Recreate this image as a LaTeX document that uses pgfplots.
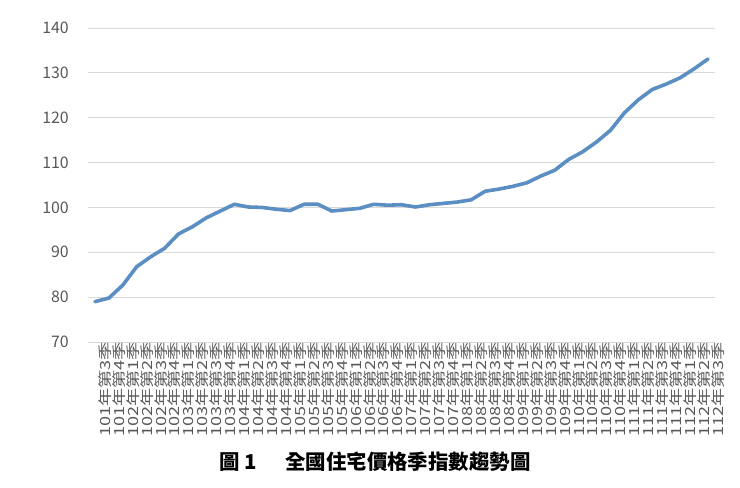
\documentclass[border=0pt]{standalone}
\usepackage{fontspec}
\setmainfont{Noto Sans CJK TC}
\usepackage{pgfplots}
\pgfplotsset{compat=1.18}
\definecolor{linec}{HTML}{5B8EC2}
\definecolor{gridc}{HTML}{D9D9D9}
\definecolor{tickc}{HTML}{595959}
\begin{document}
\begin{tikzpicture}
\useasboundingbox (0,0) rectangle (740bp,-488bp);
\begin{axis}[
  at={(88bp,-342bp)}, anchor=south west,
  scale only axis, width=627bp, height=314bp,
  xmin=-0.5, xmax=44.5, ymin=70, ymax=140,
  ytick={70,80,...,140},
  xtick={0,...,44},
  xticklabels={101年第3季,101年第4季,
    102年第1季,102年第2季,102年第3季,102年第4季,
    103年第1季,103年第2季,103年第3季,103年第4季,
    104年第1季,104年第2季,104年第3季,104年第4季,
    105年第1季,105年第2季,105年第3季,105年第4季,
    106年第1季,106年第2季,106年第3季,106年第4季,
    107年第1季,107年第2季,107年第3季,107年第4季,
    108年第1季,108年第2季,108年第3季,108年第4季,
    109年第1季,109年第2季,109年第3季,109年第4季,
    110年第1季,110年第2季,110年第3季,110年第4季,
    111年第1季,111年第2季,111年第3季,111年第4季,
    112年第1季,112年第2季,112年第3季},
  x tick label style={rotate=90, xscale=1.3, anchor=east, inner sep=0pt, yshift=-10bp,
    font=\fontsize{14}{15}\selectfont, text=tickc},
  y tick label style={anchor=east, inner sep=0pt, xshift=-19bp,
    font=\fontsize{16}{18}\selectfont, text=tickc},
  /pgf/number format/assume math mode=true,
  axis line style={draw=none},
  major tick length=0pt,
  ymajorgrids,
  grid style={gridc, line width=1bp},
  clip=false,
]
\addplot[linec, line width=3.6bp, line join=round, line cap=round] table {
x y
0 79.0
1 79.8
2 82.7
3 86.8
4 89.0
5 90.9
6 94.1
7 95.7
8 97.7
9 99.2
10 100.7
11 100.1
12 100.0
13 99.6
14 99.3
15 100.7
16 100.7
17 99.2
18 99.5
19 99.8
20 100.7
21 100.5
22 100.6
23 100.1
24 100.6
25 100.9
26 101.2
27 101.7
28 103.6
29 104.1
30 104.7
31 105.5
32 107.0
33 108.3
34 110.7
35 112.4
36 114.6
37 117.2
38 121.1
39 124.0
40 126.3
41 127.5
42 128.9
43 130.9
44 133.1
};
\end{axis}
\node[font=\fontsize{20.5}{22}\selectfont\bfseries] at (375bp,-462bp) {圖\hspace{5bp}1\hspace{28bp}全國住宅價格季指數趨勢圖};
\end{tikzpicture}
\end{document}
